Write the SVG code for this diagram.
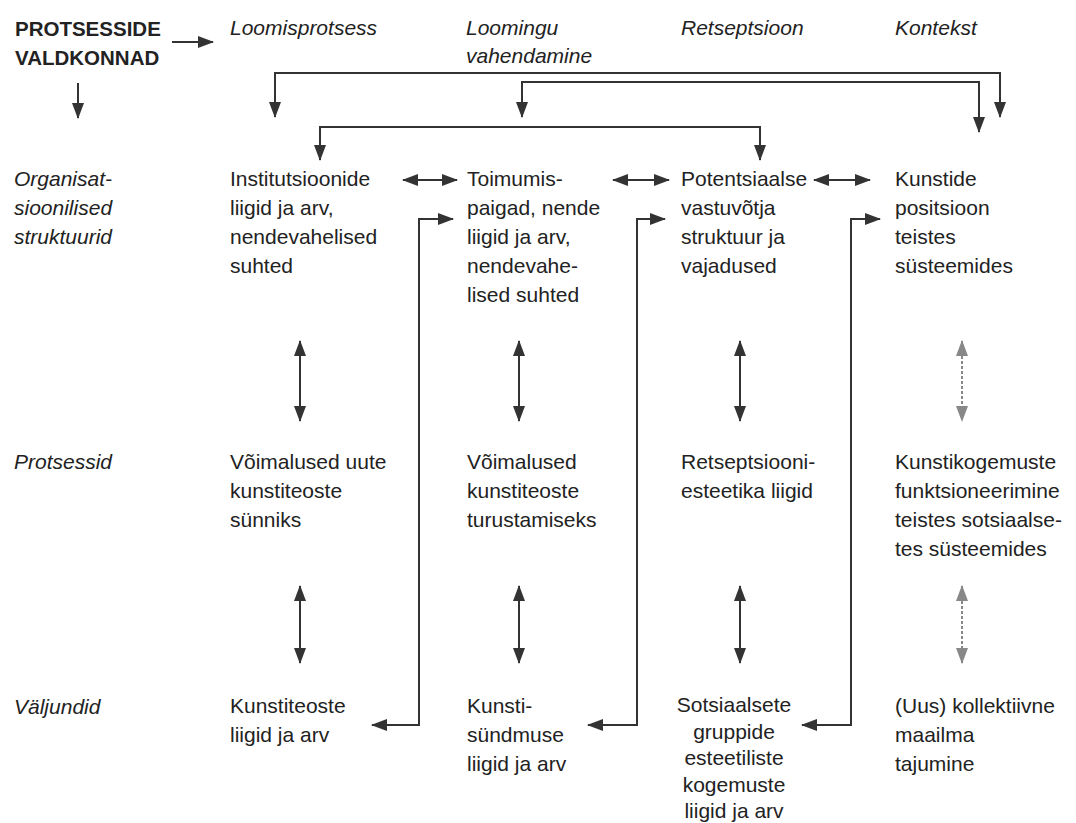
<svg xmlns="http://www.w3.org/2000/svg" width="1076" height="823" viewBox="0 0 1076 823">
<defs>
<style>
text{font-family:"Liberation Sans",Arial,sans-serif;fill:#222;font-size:21px}
.hd{font-weight:bold;font-size:20.5px}
.it{font-style:italic}
.c{stroke:#333;stroke-width:2;fill:none}
.g{stroke:#888;stroke-width:2;fill:none;stroke-dasharray:3 2}
</style>
<marker id="ah" markerUnits="userSpaceOnUse" markerWidth="16" markerHeight="12" refX="15" refY="6" orient="auto-start-reverse"><path d="M0,0 L16,6 L0,12 Z" fill="#333"/></marker>
<marker id="ahg" markerUnits="userSpaceOnUse" markerWidth="16" markerHeight="12" refX="15" refY="6" orient="auto-start-reverse"><path d="M0,0 L16,6 L0,12 Z" fill="#888"/></marker>
</defs>
<rect width="1076" height="823" fill="#fff"/>

<g id="header">
<text class="hd" x="15" y="36">PROTSESSIDE</text>
<text class="hd" x="15" y="65">VALDKONNAD</text>
</g>
<g id="col-loomisprotsess"><text class="it" x="230" y="35">Loomisprotsess</text></g>
<g id="col-loomingu"><text class="it" x="466" y="35">Loomingu</text><text class="it" x="466" y="63">vahendamine</text></g>
<g id="col-retseptsioon"><text class="it" x="681" y="35">Retseptsioon</text></g>
<g id="col-kontekst"><text class="it" x="895" y="35">Kontekst</text></g>

<g id="row-org"><text class="it" x="14" y="186">Organisat-</text><text class="it" x="14" y="215">sioonilised</text><text class="it" x="14" y="244">struktuurid</text></g>
<g id="row-prot"><text class="it" x="14" y="469">Protsessid</text></g>
<g id="row-val"><text class="it" x="14" y="714">Väljundid</text></g>

<g id="n11"><text x="230" y="186">Institutsioonide</text><text x="230" y="215">liigid ja arv,</text><text x="230" y="244">nendevahelised</text><text x="230" y="273">suhted</text></g>
<g id="n12"><text x="467" y="186">Toimumis-</text><text x="467" y="215">paigad, nende</text><text x="467" y="244">liigid ja arv,</text><text x="467" y="273">nendevahe-</text><text x="467" y="302">lised suhted</text></g>
<g id="n13"><text x="681" y="186">Potentsiaalse</text><text x="681" y="215">vastuvõtja</text><text x="681" y="244">struktuur ja</text><text x="681" y="273">vajadused</text></g>
<g id="n14"><text x="895" y="186">Kunstide</text><text x="895" y="215">positsioon</text><text x="895" y="244">teistes</text><text x="895" y="273">süsteemides</text></g>

<g id="n21"><text x="230" y="469">Võimalused uute</text><text x="230" y="498">kunstiteoste</text><text x="230" y="527">sünniks</text></g>
<g id="n22"><text x="467" y="469">Võimalused</text><text x="467" y="498">kunstiteoste</text><text x="467" y="527">turustamiseks</text></g>
<g id="n23"><text x="681" y="469">Retseptsiooni-</text><text x="681" y="498">esteetika liigid</text></g>
<g id="n24"><text x="895" y="469">Kunstikogemuste</text><text x="895" y="498">funktsioneerimine</text><text x="895" y="527">teistes sotsiaalse-</text><text x="895" y="556">tes süsteemides</text></g>

<g id="n31"><text x="230" y="713">Kunstiteoste</text><text x="230" y="742">liigid ja arv</text></g>
<g id="n32"><text x="467" y="713">Kunsti-</text><text x="467" y="742">sündmuse</text><text x="467" y="771">liigid ja arv</text></g>
<g id="n33" text-anchor="middle"><text x="734" y="712">Sotsiaalsete</text><text x="734" y="738.5">gruppide</text><text x="734" y="765">esteetiliste</text><text x="734" y="791.5">kogemuste</text><text x="734" y="818">liigid ja arv</text></g>
<g id="n34"><text x="895" y="713">(Uus) kollektiivne</text><text x="895" y="742">maailma</text><text x="895" y="771">tajumine</text></g>

<g id="connectors">
<path class="c" d="M172,42 H213" marker-end="url(#ah)"/>
<path class="c" d="M78,83 V118" marker-end="url(#ah)"/>
<path class="c" d="M275,117 V73 H1000 V117" marker-start="url(#ah)" marker-end="url(#ah)"/>
<path class="c" d="M522,117 V82 H979 V132" marker-start="url(#ah)" marker-end="url(#ah)"/>
<path class="c" d="M320,160 V127 H760 V160" marker-start="url(#ah)" marker-end="url(#ah)"/>
<path class="c" d="M403,180 H457" marker-start="url(#ah)" marker-end="url(#ah)"/>
<path class="c" d="M613,180 H669" marker-start="url(#ah)" marker-end="url(#ah)"/>
<path class="c" d="M814,180 H870" marker-start="url(#ah)" marker-end="url(#ah)"/>
<path class="c" d="M372,725 H419 V219 H453" marker-start="url(#ah)" marker-end="url(#ah)"/>
<path class="c" d="M588,725 H637 V219 H665" marker-start="url(#ah)" marker-end="url(#ah)"/>
<path class="c" d="M802,725 H851 V219 H880" marker-start="url(#ah)" marker-end="url(#ah)"/>
<path class="c" d="M300,341 V421" marker-start="url(#ah)" marker-end="url(#ah)"/>
<path class="c" d="M519,341 V421" marker-start="url(#ah)" marker-end="url(#ah)"/>
<path class="c" d="M740,341 V421" marker-start="url(#ah)" marker-end="url(#ah)"/>
<path class="g" d="M962,341 V421" marker-start="url(#ahg)" marker-end="url(#ahg)"/>
<path class="c" d="M300,586 V663" marker-start="url(#ah)" marker-end="url(#ah)"/>
<path class="c" d="M519,586 V663" marker-start="url(#ah)" marker-end="url(#ah)"/>
<path class="c" d="M740,586 V663" marker-start="url(#ah)" marker-end="url(#ah)"/>
<path class="g" d="M962,586 V663" marker-start="url(#ahg)" marker-end="url(#ahg)"/>
</g>
</svg>
